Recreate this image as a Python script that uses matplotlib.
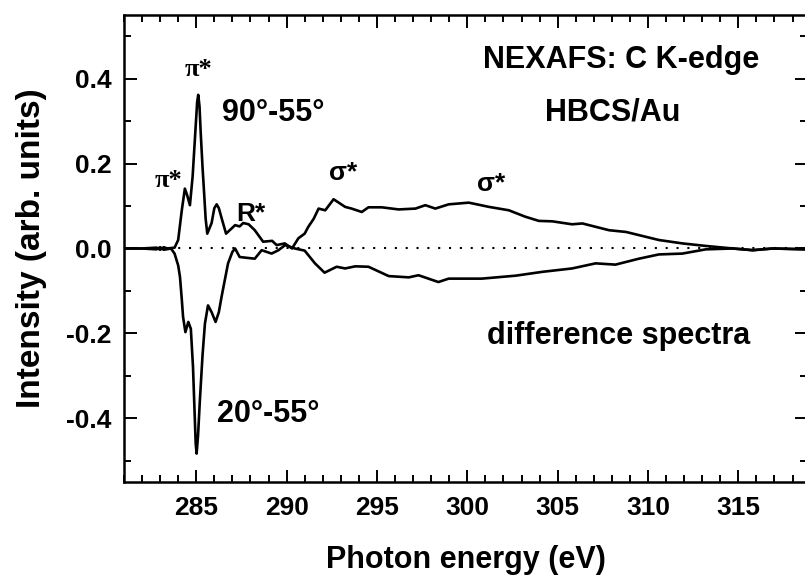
import matplotlib
matplotlib.use("Agg")
import matplotlib.pyplot as plt
from matplotlib.ticker import MultipleLocator, FormatStrFormatter

plt.rcParams['font.family'] = ['Liberation Sans', 'DejaVu Sans']
plt.rcParams['font.weight'] = 'bold'
plt.rcParams['axes.unicode_minus'] = False

# 90-55 difference spectrum
upper_e = [281.0, 282.0, 282.8, 283.0, 283.2, 283.4, 283.8, 284.0, 284.2, 284.37,
           284.5, 284.65, 284.8, 284.9, 285.0, 285.05, 285.11, 285.18, 285.25, 285.35,
           285.45, 285.52, 285.61, 285.85, 286.0, 286.13, 286.25, 286.4, 286.65, 286.9,
           287.15, 287.4, 287.6, 287.9, 288.24, 288.7, 289.2,
           289.45, 289.9, 290.3, 290.65, 291.0, 291.2, 291.5, 291.77, 292.14, 292.6,
           293.24, 293.6, 294.16, 294.53, 295.27, 296.2, 297.13, 297.68, 298.23, 298.97,
           300.08, 301.2, 302.3, 303.2, 303.96, 304.7, 305.8, 306.37, 307.85, 308.78,
           310.6, 311.9, 313.2, 314.7, 315.8, 316.9, 318.8]
upper_i = [0.0, 0.0, 0.002, -0.003, 0.003, 0.0, 0.002, 0.02, 0.09, 0.141,
           0.125, 0.102, 0.17, 0.24, 0.31, 0.345, 0.362, 0.335, 0.27, 0.19,
           0.12, 0.07, 0.035, 0.06, 0.095, 0.104, 0.095, 0.072, 0.035, 0.045,
           0.055, 0.052, 0.06, 0.057, 0.043, 0.016, 0.018,
           0.008, 0.012, 0.0, 0.024, 0.035, 0.051, 0.07, 0.094, 0.09, 0.116,
           0.098, 0.094, 0.086, 0.097, 0.097, 0.092, 0.094, 0.102, 0.094, 0.104,
           0.108, 0.098, 0.09, 0.075, 0.065, 0.064, 0.057, 0.059, 0.043, 0.039,
           0.02, 0.012, 0.006, 0.0, -0.004, 0.0, -0.002]

# 20-55 difference spectrum
lower_e = [281.0, 282.0, 282.8, 283.0, 283.2, 283.6, 283.8, 284.0, 284.1, 284.2,
           284.27, 284.4, 284.5, 284.56, 284.7, 284.82, 284.92, 284.97, 285.02, 285.1,
           285.2, 285.35, 285.48, 285.65, 285.85, 286.07, 286.25, 286.4, 286.6, 286.76,
           287.0, 287.15, 287.4, 287.8, 288.24, 288.62, 289.17, 289.55, 289.92, 290.46,
           291.0, 291.57, 292.1, 292.77, 293.24, 293.8, 294.53, 295.65, 296.76, 297.3,
           298.4, 298.97, 300.8, 302.68, 304.15, 305.8, 307.1, 308.2, 309.5, 310.6,
           311.9, 313.2, 314.7, 315.8, 316.9, 318.8]
lower_i = [0.0, 0.0, -0.002, 0.003, -0.003, 0.0, -0.012, -0.04, -0.067, -0.12,
           -0.161, -0.197, -0.182, -0.173, -0.189, -0.279, -0.40, -0.46, -0.483, -0.44,
           -0.358, -0.25, -0.177, -0.134, -0.15, -0.173, -0.15, -0.114, -0.07, -0.035,
           -0.008, 0.0, -0.02, -0.022, -0.024, -0.004, -0.012, -0.004, 0.008, 0.0,
           -0.005, -0.035, -0.057, -0.043, -0.047, -0.042, -0.043, -0.065, -0.068, -0.063,
           -0.079, -0.071, -0.071, -0.064, -0.055, -0.047, -0.035, -0.038, -0.024, -0.014,
           -0.012, -0.002, 0.0, -0.004, 0.0, -0.002]

# peak labels: text, energy, intensity
peak_labels = ['π*', 'π*', 'R*', 'σ*', 'σ*']
peak_e = [285.11, 283.45, 288.0, 293.15, 301.3]
peak_i = [0.421, 0.161, 0.081, 0.178, 0.151]

fig = plt.figure(figsize=(8.05, 5.81), dpi=100)
ax = fig.add_axes([0.154, 0.1704, 0.8485, 0.8038])

ax.axhline(0, color='black', lw=1.5, ls=(0, (1, 4.2)), zorder=1)
ax.plot(upper_e, upper_i, color='black', lw=1.9, zorder=2)
ax.plot(lower_e, lower_i, color='black', lw=1.9, zorder=2)

ax.set_xlim(281, 318.8)
ax.set_ylim(-0.55, 0.55)

ax.xaxis.set_major_locator(MultipleLocator(5))
ax.xaxis.set_minor_locator(MultipleLocator(1))
ax.yaxis.set_major_locator(MultipleLocator(0.2))
ax.yaxis.set_minor_locator(MultipleLocator(0.1))
ax.yaxis.set_major_formatter(FormatStrFormatter('%.1f'))

ax.tick_params(which='both', direction='in', top=True, right=True, width=1.4)
ax.tick_params(which='major', length=9)
ax.tick_params(which='minor', length=5)
ax.tick_params(axis='x', labelsize=19, pad=10)
ax.tick_params(axis='y', labelsize=19, pad=9)
for s in ax.spines.values():
    s.set_linewidth(1.8)

ax.set_xlabel('Photon energy (eV)', fontsize=22, fontweight='bold', labelpad=18)
ax.set_ylabel('Intensity (arb. units)', fontsize=24, fontweight='bold', labelpad=14)

ax.text(308.5, 0.444, 'NEXAFS: C K-edge', fontsize=22, ha='center', va='center')
ax.text(308.05, 0.321, 'HBCS/Au', fontsize=22, ha='center', va='center')
ax.text(308.4, -0.207, 'difference spectra', fontsize=22, ha='center', va='center')
ax.text(289.27, 0.319, '90°-55°', fontsize=22, ha='center', va='center')
ax.text(288.99, -0.391, '20°-55°', fontsize=22, ha='center', va='center')

for lab, e, v in zip(peak_labels, peak_e, peak_i):
    if lab.startswith('π'):
        fam = ['Liberation Serif', 'DejaVu Serif']
    else:
        fam = ['Liberation Sans', 'DejaVu Sans']
    ax.text(e, v, lab, fontsize=19, ha='center', va='center', family=fam)

fig.savefig('out.png', dpi=100)
